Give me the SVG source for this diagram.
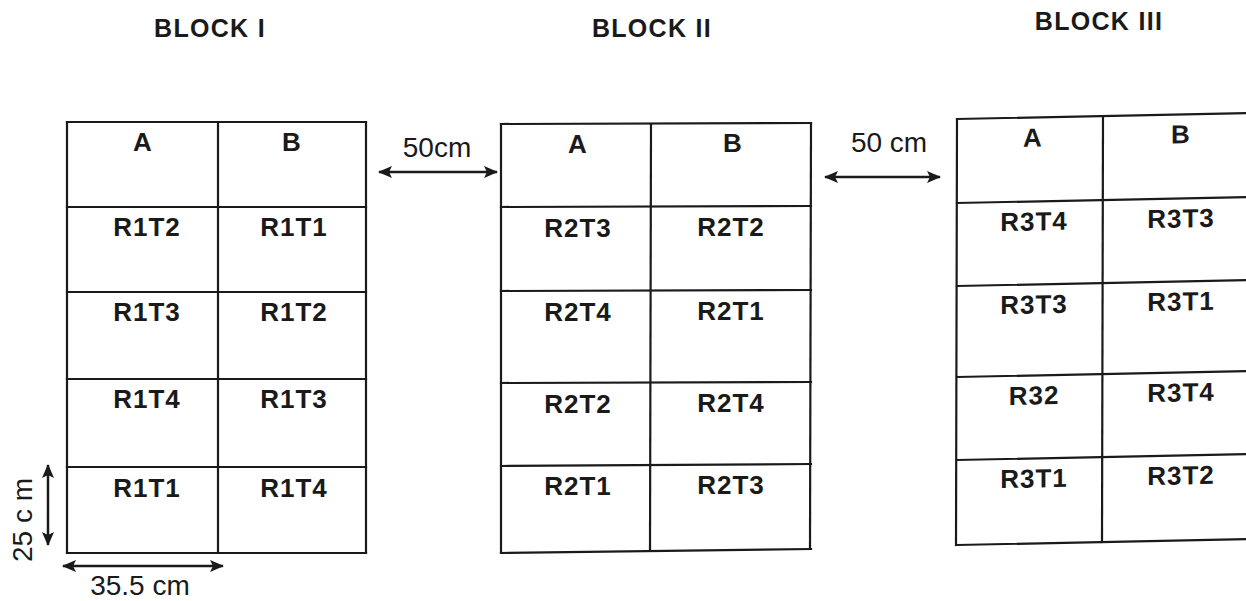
<svg xmlns="http://www.w3.org/2000/svg" width="1246" height="601" viewBox="0 0 1246 601">
<style>
.grid line{stroke:#1a1a1a;stroke-width:2.2;stroke-linecap:square}
.t{font-family:"Liberation Sans",Arial,sans-serif;font-weight:bold;font-size:26px;fill:#1a1a1a;text-anchor:middle;letter-spacing:1px}
.h{font-family:"Liberation Sans",Arial,sans-serif;font-weight:bold;font-size:25px;fill:#1a1a1a;text-anchor:middle;letter-spacing:1.3px}
.d{font-family:"Liberation Sans",Arial,sans-serif;font-size:28px;fill:#1a1a1a;text-anchor:middle}
.arr{stroke:#1a1a1a;stroke-width:2.5;fill:none;marker-start:url(#ah);marker-end:url(#ah)}
</style>
<defs>
<marker id="ah" viewBox="0 0 14 12" refX="13" refY="6" markerWidth="14" markerHeight="12" markerUnits="userSpaceOnUse" orient="auto-start-reverse">
<path d="M0,0 L14,6 L0,12 L3,6 Z" fill="#1a1a1a"/>
</marker>
</defs>
<rect width="1246" height="601" fill="#ffffff"/>

<text class="h" x="210" y="37">BLOCK I</text>
<text class="h" x="652" y="37">BLOCK II</text>
<text class="h" x="1099" y="30">BLOCK III</text>

<g id="block1">
<g class="grid">
<line x1="67" y1="122" x2="366" y2="122"/>
<line x1="67" y1="207" x2="366" y2="207"/>
<line x1="67" y1="292" x2="366" y2="292"/>
<line x1="67" y1="379" x2="366" y2="379"/>
<line x1="67" y1="467" x2="366" y2="467"/>
<line x1="67" y1="553" x2="366" y2="553"/>
<line x1="67" y1="122" x2="67" y2="553"/>
<line x1="218" y1="122" x2="218" y2="553"/>
<line x1="366" y1="122" x2="366" y2="553"/>
</g>
<text class="t" x="143" y="151">A</text>
<text class="t" x="292" y="151">B</text>
<text class="t" x="147" y="236">R1T2</text>
<text class="t" x="294" y="236">R1T1</text>
<text class="t" x="147" y="321">R1T3</text>
<text class="t" x="294" y="321">R1T2</text>
<text class="t" x="147" y="408">R1T4</text>
<text class="t" x="294" y="408">R1T3</text>
<text class="t" x="147" y="497">R1T1</text>
<text class="t" x="294" y="497">R1T4</text>
</g>

<g id="block2">
<g class="grid">
<line x1="501" y1="124" x2="811" y2="123"/>
<line x1="501" y1="207" x2="811" y2="206"/>
<line x1="501" y1="291" x2="811" y2="290"/>
<line x1="501" y1="383" x2="811" y2="382"/>
<line x1="501" y1="466" x2="811" y2="464"/>
<line x1="501" y1="553" x2="811" y2="549"/>
<line x1="501" y1="124" x2="501" y2="553"/>
<line x1="651" y1="124" x2="650" y2="551"/>
<line x1="811" y1="123" x2="810" y2="549"/>
</g>
<text class="t" x="578" y="153">A</text>
<text class="t" x="733" y="152">B</text>
<text class="t" x="578" y="237">R2T3</text>
<text class="t" x="731" y="236">R2T2</text>
<text class="t" x="578" y="321">R2T4</text>
<text class="t" x="731" y="320">R2T1</text>
<text class="t" x="578" y="413">R2T2</text>
<text class="t" x="731" y="412">R2T4</text>
<text class="t" x="578" y="495">R2T1</text>
<text class="t" x="731" y="494">R2T3</text>
</g>

<g id="block3" transform="translate(957,119) skewY(-1.17)">
<g class="grid">
<line x1="0" y1="0" x2="300" y2="0"/>
<line x1="0" y1="84" x2="300" y2="84"/>
<line x1="0" y1="167" x2="300" y2="167"/>
<line x1="0" y1="258" x2="300" y2="258"/>
<line x1="0" y1="341" x2="300" y2="341"/>
<line x1="0" y1="426" x2="300" y2="426"/>
<line x1="0" y1="0" x2="-1" y2="426"/>
<line x1="146" y1="0" x2="145" y2="426"/>
</g>
<text class="t" x="76" y="29">A</text>
<text class="t" x="224" y="29">B</text>
<text class="t" x="77" y="113">R3T4</text>
<text class="t" x="224" y="113">R3T3</text>
<text class="t" x="77" y="196">R3T3</text>
<text class="t" x="224" y="196">R3T1</text>
<text class="t" x="77" y="287">R32</text>
<text class="t" x="224" y="287">R3T4</text>
<text class="t" x="77" y="370">R3T1</text>
<text class="t" x="224" y="370">R3T2</text>
</g>

<g id="connectors">
<line class="arr" x1="379" y1="172" x2="497" y2="172"/>
<line class="arr" x1="825" y1="177" x2="940" y2="177"/>
<line class="arr" x1="48" y1="465" x2="48" y2="545"/>
<line class="arr" x1="63" y1="566" x2="223" y2="566"/>
</g>
<text class="d" x="437" y="157">50cm</text>
<text class="d" x="889" y="152">50 cm</text>
<text class="d" x="140" y="595">35.5 cm</text>
<text class="d" x="0" y="0" transform="translate(32,520) rotate(-90)">25 c m</text>
</svg>
